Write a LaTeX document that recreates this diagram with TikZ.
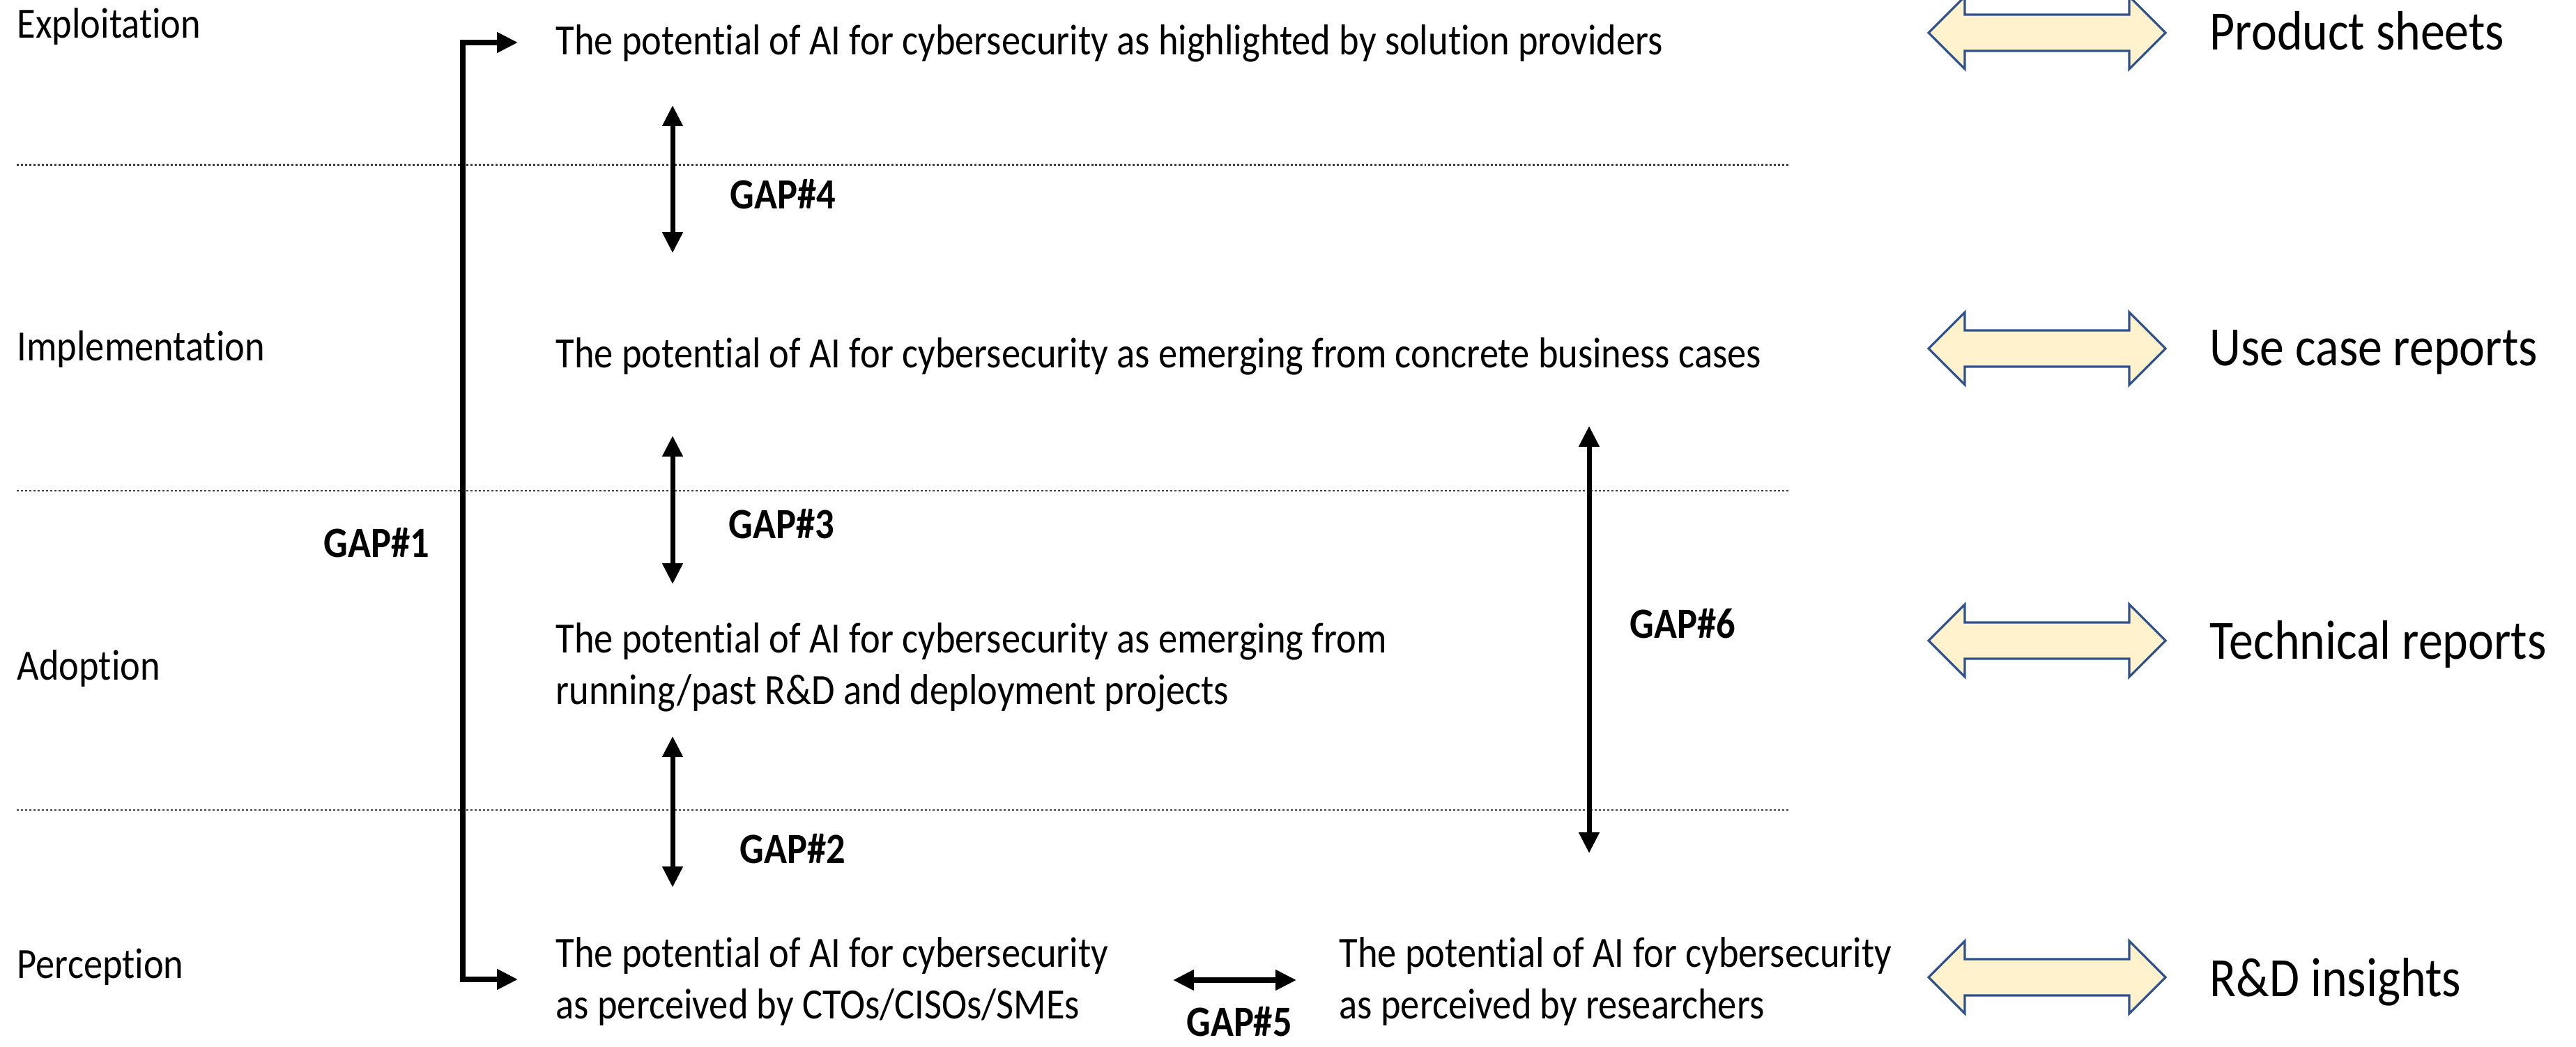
\documentclass[tikz,border=0pt]{standalone}
\usepackage{fontspec}
\setmainfont[FakeStretch=0.88, Ligatures=NoCommon]{Carlito}
\usepackage{tikz}
\usetikzlibrary{arrows.meta}

\definecolor{arrowfill}{HTML}{FFF2CC}
\definecolor{arrowline}{HTML}{2F528F}
\newcommand{\diagfont}{\fontsize{17.6}{20.8}\selectfont}
\newcommand{\srcfont}{\fontsize{22.6}{26}\selectfont}

\tikzset{
  lvl/.style={anchor=base west, inner sep=0pt},
  pot/.style={anchor=base west, align=left, inner sep=0pt},
  src/.style={anchor=base west, inner sep=0pt, font=\srcfont},
  gaplbl/.style={anchor=base west, inner sep=0pt, font=\diagfont\bfseries},
  gaparrow/.style={{Triangle[length=8.5pt,width=8pt]}-{Triangle[length=8.5pt,width=8pt]}, line width=2pt},
  layersep/.style={line width=0.85pt, black!75, dash pattern=on 0.85pt off 0.85pt},
  blockarrow/.style={fill=arrowfill, draw=arrowline, line width=0.9pt, line join=miter},
}

\begin{document}
\begin{tikzpicture}[font=\diagfont]
  \useasboundingbox (0,0) rectangle (36.96,-15.02);

  % levels
  \node[lvl] (expl) at (0.24,-0.55)  {Exploitation};
  \node[lvl] (impl) at (0.24,-5.18)  {Implementation};
  \node[lvl] (adop) at (0.24,-9.75)  {Adoption};
  \node[lvl] (perc) at (0.24,-14.03) {Perception};

  \foreach \y in {-2.37,-7.04,-11.62}{
    \draw[layersep] (0.24,\y) -- (25.69,\y);
  }

  % potentials (base = last line)
  \node[pot] (potExpl) at (7.97,-0.79) {The potential of AI for cybersecurity as highlighted by solution providers};
  \node[pot] (potImpl) at (7.97,-5.28) {The potential of AI for cybersecurity as emerging from concrete business cases};
  \node[pot] (potAdop) at (7.97,-10.10) {The potential of AI for cybersecurity as emerging from\\running/past R\&D and deployment projects};
  \node[pot] (potCto)  at (7.97,-14.61) {The potential of AI for cybersecurity\\as perceived by CTOs/CISOs/SMEs};
  \node[pot] (potRes)  at (19.21,-14.61) {The potential of AI for cybersecurity\\as perceived by researchers};

  % gap #1 bracket
  \coordinate (brTop) at (7.43,-0.61);
  \coordinate (brBot) at (7.43,-14.05);
  \draw[gaparrow, line join=miter] (brTop) -- ++(-0.79,0) |- (brBot);
  \node[gaplbl] (gapOne) at (4.64,-8.00) {GAP\#1};

  % vertical gaps
  \foreach \nm/\x/\ya/\yb in {gTwo/9.65/-10.56/-12.73, gThree/9.65/-6.25/-8.38, gFour/9.65/-1.51/-3.63, gSix/22.80/-6.11/-12.24}{
    \coordinate (\nm a) at (\x,\ya);
    \coordinate (\nm b) at (\x,\yb);
    \draw[gaparrow] (\nm a) -- (\nm b);
  }
  \node[gaplbl] (gapTwo)   at (10.61,-12.38) {GAP\#2};
  \node[gaplbl] (gapThree) at (10.45,-7.73)  {GAP\#3};
  \node[gaplbl] (gapFour)  at (10.47,-3.00)  {GAP\#4};
  \node[gaplbl] (gapSix)   at (23.38,-9.15)  {GAP\#6};

  % gap #5
  \coordinate (gFivea) at (16.83,-14.06);
  \coordinate (gFiveb) at (18.60,-14.06);
  \draw[gaparrow] (gFivea) -- (gFiveb);
  \node[gaplbl, anchor=base] (gapFive) at (17.78,-14.86) {GAP\#5};

  % sources
  \foreach \y in {-0.47,-5.00,-9.19,-14.02}{
    \draw[blockarrow, shift={(29.37,\y)}] (-1.70,0) -- (-1.18,0.52) -- (-1.18,0.26) -- (1.18,0.26)
      -- (1.18,0.52) -- (1.70,0) -- (1.18,-0.52) -- (1.18,-0.26) -- (-1.18,-0.26) -- (-1.18,-0.52) -- cycle;
  }
  \node[src] (srcProd) at (31.70,-0.72)  {Product sheets};
  \node[src] (srcUse)  at (31.70,-5.25)  {Use case reports};
  \node[src] (srcTech) at (31.70,-9.45)  {Technical reports};
  \node[src] (srcRnd)  at (31.70,-14.29) {R\&D insights};
\end{tikzpicture}
\end{document}
